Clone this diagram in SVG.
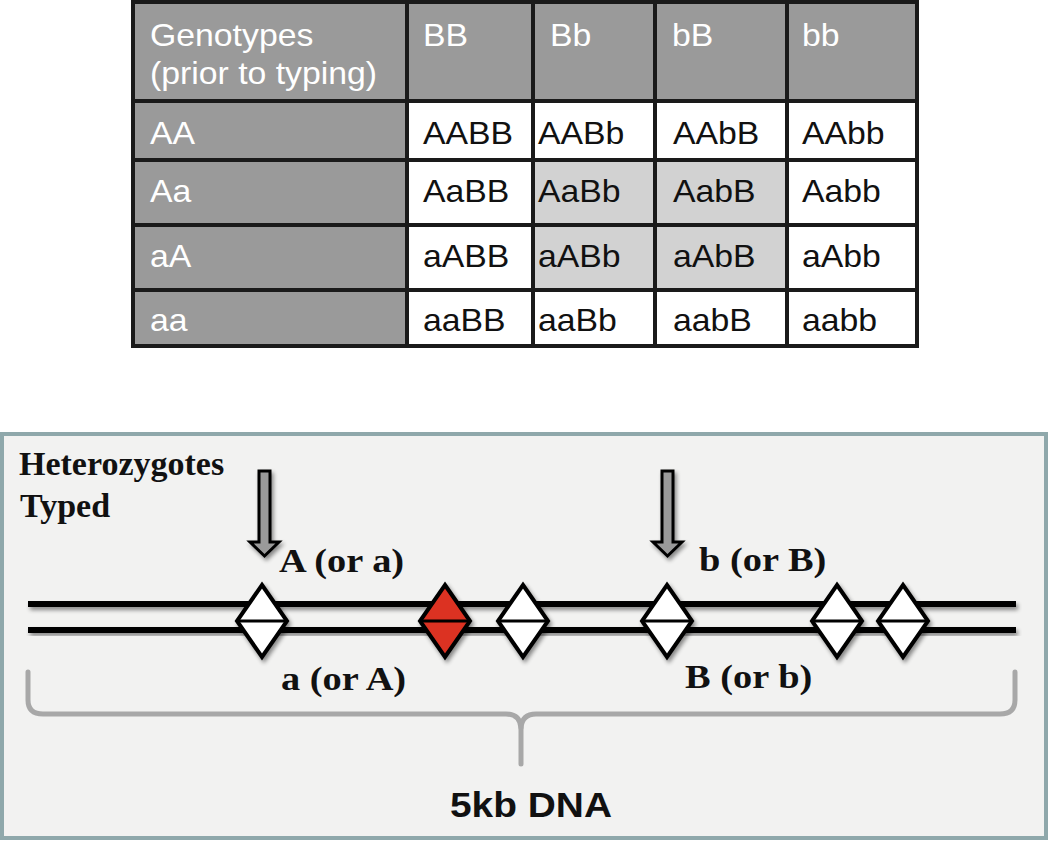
<svg xmlns="http://www.w3.org/2000/svg" width="1050" height="841" viewBox="0 0 1050 841">
<style>
.hd{fill:#9a9a9a}
.wc{fill:#ffffff}
.gc{fill:#d2d2d2}
.grid{stroke:#1a1a1a;stroke-width:4;fill:none}
.tw{font-family:"Liberation Sans",Arial,sans-serif;font-size:31px;fill:#ffffff}
.tb{font-family:"Liberation Sans",Arial,sans-serif;font-size:31px;fill:#111111}
.lab{font-family:"Liberation Serif","Times New Roman",serif;font-weight:bold;font-size:34px;fill:#111111}
.het{font-family:"Liberation Serif","Times New Roman",serif;font-weight:bold;font-size:34px;fill:#111111}
.dna{stroke:#000;stroke-width:6;fill:none}
.dia{stroke:#000;stroke-width:4;stroke-linejoin:miter}
.mid{stroke:#000;stroke-width:3}
.arr{fill:#9a9a9a;stroke:#000;stroke-width:3;stroke-linejoin:miter}
.brace{fill:none;stroke:#a8a8a8;stroke-width:5;stroke-linecap:round}
</style>
<defs>
<filter id="sh" x="-20%" y="-20%" width="140%" height="140%">
<feGaussianBlur in="SourceAlpha" stdDeviation="2"/>
<feOffset dx="2" dy="3" result="o"/>
<feComponentTransfer><feFuncA type="linear" slope="0.45"/></feComponentTransfer>
<feMerge><feMergeNode/><feMergeNode in="SourceGraphic"/></feMerge>
</filter>
</defs>
<rect width="1050" height="841" fill="#ffffff"/>

<g id="table">
<rect x="131" y="0" width="788" height="101" class="hd"/>
<rect x="131" y="101" width="276" height="247" class="hd"/>
<rect x="407" y="101" width="512" height="247" class="wc"/>
<rect x="533" y="160" width="254" height="130" class="gc"/>
<path class="grid" d="M133,2 H917 V346 H133 Z M407,0 V348 M533,0 V348 M655,0 V348 M787,0 V348 M131,101 H919 M131,160 H919 M131,225 H919 M131,290 H919"/>
<g id="header">
<text class="tw" transform="matrix(1.09 0 0 1 150 46)">Genotypes</text>
<text class="tw" transform="matrix(1.09 0 0 1 150 84)">(prior to typing)</text>
<text class="tw" transform="matrix(1.09 0 0 1 423 46)">BB</text>
<text class="tw" transform="matrix(1.09 0 0 1 550 46)">Bb</text>
<text class="tw" transform="matrix(1.09 0 0 1 672 46)">bB</text>
<text class="tw" transform="matrix(1.09 0 0 1 802 46)">bb</text>
</g>
<g id="row-AA">
<text class="tw" transform="matrix(1.09 0 0 1 150 144)">AA</text>
<text class="tb" transform="matrix(1.09 0 0 1 423 144)">AABB</text>
<text class="tb" transform="matrix(1.09 0 0 1 538 144)">AABb</text>
<text class="tb" transform="matrix(1.09 0 0 1 673 144)">AAbB</text>
<text class="tb" transform="matrix(1.09 0 0 1 802 144)">AAbb</text>
</g>
<g id="row-Aa">
<text class="tw" transform="matrix(1.09 0 0 1 150 202)">Aa</text>
<text class="tb" transform="matrix(1.09 0 0 1 423 202)">AaBB</text>
<text class="tb" transform="matrix(1.09 0 0 1 538 202)">AaBb</text>
<text class="tb" transform="matrix(1.09 0 0 1 673 202)">AabB</text>
<text class="tb" transform="matrix(1.09 0 0 1 802 202)">Aabb</text>
</g>
<g id="row-aA">
<text class="tw" transform="matrix(1.09 0 0 1 150 267)">aA</text>
<text class="tb" transform="matrix(1.09 0 0 1 423 267)">aABB</text>
<text class="tb" transform="matrix(1.09 0 0 1 538 267)">aABb</text>
<text class="tb" transform="matrix(1.09 0 0 1 673 267)">aAbB</text>
<text class="tb" transform="matrix(1.09 0 0 1 802 267)">aAbb</text>
</g>
<g id="row-aa">
<text class="tw" transform="matrix(1.09 0 0 1 150 331)">aa</text>
<text class="tb" transform="matrix(1.09 0 0 1 423 331)">aaBB</text>
<text class="tb" transform="matrix(1.09 0 0 1 538 331)">aaBb</text>
<text class="tb" transform="matrix(1.09 0 0 1 673 331)">aabB</text>
<text class="tb" transform="matrix(1.09 0 0 1 802 331)">aabb</text>
</g>
</g>

<g id="panel">
<rect x="2" y="434" width="1044" height="404" fill="#f2f2f1" stroke="#8fa8ab" stroke-width="4"/>
</g>

<g id="title">
<text class="het" x="19" y="475">Heterozygotes</text>
<text class="het" x="20" y="517">Typed</text>
</g>

<g id="dna" filter="url(#sh)">
<line class="dna" x1="28" y1="604" x2="1016" y2="604"/>
<line class="dna" x1="28" y1="630" x2="1016" y2="630"/>
</g>

<g id="snp1" filter="url(#sh)"><polygon class="dia" fill="#ffffff" points="262,585 287,621 262,657 237,621"/><line class="mid" x1="237" y1="621" x2="287" y2="621"/></g>
<g id="snp2" filter="url(#sh)"><polygon class="dia" fill="#dc3222" points="445,585 470,621 445,657 420,621"/><line class="mid" x1="420" y1="621" x2="470" y2="621"/></g>
<g id="snp3" filter="url(#sh)"><polygon class="dia" fill="#ffffff" points="523,585 548,621 523,657 498,621"/><line class="mid" x1="498" y1="621" x2="548" y2="621"/></g>
<g id="snp4" filter="url(#sh)"><polygon class="dia" fill="#ffffff" points="667,585 692,621 667,657 642,621"/><line class="mid" x1="642" y1="621" x2="692" y2="621"/></g>
<g id="snp5" filter="url(#sh)"><polygon class="dia" fill="#ffffff" points="837,585 862,621 837,657 812,621"/><line class="mid" x1="812" y1="621" x2="862" y2="621"/></g>
<g id="snp6" filter="url(#sh)"><polygon class="dia" fill="#ffffff" points="903,585 928,621 903,657 878,621"/><line class="mid" x1="878" y1="621" x2="928" y2="621"/></g>

<g id="connectors" filter="url(#sh)">
<polygon class="arr" points="259,471 270,471 270,542 279,542 264.5,556 250,542 259,542"/>
<polygon class="arr" points="662,471 673,471 673,542 682,542 667.5,556 653,542 662,542"/>
</g>

<g id="labels">
<text class="lab" transform="matrix(1.13 0 0 1 279 572)">A (or a)</text>
<text class="lab" transform="matrix(1.13 0 0 1 699 571)">b (or B)</text>
<text class="lab" transform="matrix(1.13 0 0 1 281 690)">a (or A)</text>
<text class="lab" transform="matrix(1.13 0 0 1 685 688)">B (or b)</text>
</g>

<g id="brace">
<path class="brace" d="M28,672 V700 Q28,714 43,714 H506 Q520,714 521,728 V764"/>
<path class="brace" d="M1015,672 V700 Q1015,714 1000,714 H536 Q522,714 521,728"/>
<text transform="matrix(1.08 0 0 1 450 817)" font-family="Liberation Sans, Arial, sans-serif" font-weight="bold" font-size="36" fill="#111111">5kb DNA</text>
</g>
</svg>
